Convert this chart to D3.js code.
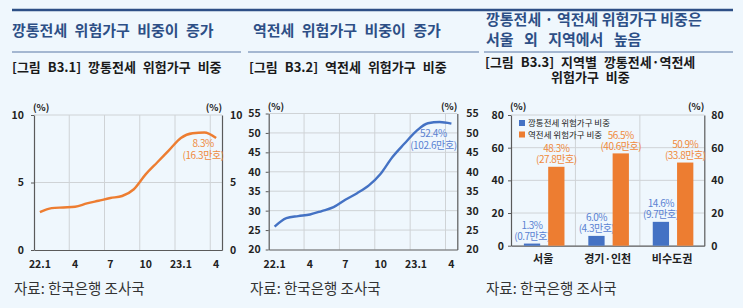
<!DOCTYPE html>
<html>
<head>
<meta charset="utf-8">
<script src="https://cdn.jsdelivr.net/npm/d3@7"></script>
<style>
  body { margin: 0; background: #eff7fd; }
  text { font-family: "Noto Sans CJK KR", sans-serif; }
</style>
</head>
<body>
<div class="chart"></div>
<script>
// data
let months = ["22.1", "22.2", "22.3", "22.4", "22.5", "22.6", "22.7", "22.8", "22.9", "22.10", "22.11", "22.12", "23.1", "23.2", "23.3", "23.4"];
let monthTicks = ["22.1", "22.4", "22.7", "22.10", "23.1", "23.4"];
let monthTickLabels = ["22.1", "4", "7", "10", "23.1", "4"];
let kangtongShare = [2.8, 3.1, 3.15, 3.2, 3.45, 3.65, 3.85, 4.0, 4.5, 5.6, 6.5, 7.4, 8.3, 8.65, 8.7, 8.3];
let reverseShare = [25.9, 28.1, 28.6, 29.0, 29.9, 30.9, 32.8, 34.5, 36.5, 39.5, 43.8, 47.2, 50.4, 52.5, 52.8, 52.4];

let regions = ["서울", "경기·인천", "비수도권"];
let seriesNames = ["깡통전세 위험가구 비중", "역전세 위험가구 비중"];
let kangtongByRegion = [1.3, 6.0, 14.6];
let reverseByRegion = [48.3, 56.5, 50.9];
let kangtongHouses = [0.7, 4.3, 9.7];
let reverseHouses = [27.8, 40.6, 33.8];

let ticks1 = [0, 5, 10];
let ticks2 = [20, 25, 30, 35, 40, 45, 50, 55];
let ticks3 = [0, 20, 40, 60, 80];

let titles = [["깡통전세 위험가구 비중이 증가"], ["역전세 위험가구 비중이 증가"], ["깡통전세 · 역전세 위험가구 비중은", "서울 외 지역에서 높음"]];
let figLabels = ["[그림 B3.1]", "[그림 B3.2]", "[그림 B3.3]"];
let figTitles = [["깡통전세 위험가구 비중"], ["역전세 위험가구 비중"], ["지역별 깡통전세·역전세", "위험가구 비중"]];
let source = "자료: 한국은행 조사국";

let svgWidth = 743;
let svgHeight = 308;

let orange = "#ed7d31";
let blue = "#4472c4";
let orangeText = "#f08a3c";
let blueText = "#5a82d2";
let titleBlue = "#2d4f86";
let axisGrey = "#5a5a5a";
let gridGrey = "#cfd3d6";
let narrow = "'Liberation Sans Narrow', 'Noto Sans CJK KR', sans-serif";

let svg = d3.select(".chart")
  .append("svg")
  .attr("width", svgWidth)
  .attr("height", svgHeight);

svg.append("rect")
  .attr("width", svgWidth)
  .attr("height", svgHeight)
  .attr("fill", "#eff7fd");

// headers
svg.append("line")
  .attr("x1", 12).attr("x2", 733).attr("y1", 10).attr("y2", 10)
  .attr("stroke", titleBlue).attr("stroke-width", 2.5);

let panelX = [12, 248, 484];
let ruleEnds = [241, 479, 733];
let titleX = [12, 253, 486];
let figX = [12, 249, 485];
// gap between words per title line
let titleSpacing = [[4], [4], [0, 7]];

panelX.forEach(function(px, i) {
  svg.append("line")
    .attr("x1", px).attr("x2", ruleEnds[i]).attr("y1", 52).attr("y2", 52)
    .attr("stroke", "#5a78a6").attr("stroke-width", 1.2);

  let t = svg.append("text")
    .attr("x", titleX[i])
    .attr("y", titles[i].length == 1 ? 36 : 25)
    .attr("fill", titleBlue)
    .style("font-size", "15px")
    .style("font-weight", "bold");
  titles[i].forEach(function(line, j) {
    t.append("tspan")
      .attr("x", titleX[i])
      .attr("dy", j == 0 ? 0 : 20)
      .style("word-spacing", titleSpacing[i][j] + "px")
      .text(line);
  });

  let f = svg.append("text")
    .attr("x", figX[i])
    .attr("y", figTitles[i].length == 1 ? 72 : 67)
    .attr("fill", "#1a1a1a")
    .style("font-family", narrow)
    .style("font-size", "13px")
    .style("font-weight", "bold")
    .style("word-spacing", "4px");
  f.append("tspan").text(figLabels[i] + " " + figTitles[i][0]);
  if (figTitles[i].length > 1) {
    f.append("tspan").attr("x", figX[i] + 66).attr("dy", 15).text(figTitles[i][1]);
  }

  svg.append("text")
    .attr("x", px + 2)
    .attr("y", 294)
    .attr("fill", "#333")
    .style("font-size", "14.5px")
    .text(source);
});

function styleAxis(g) {
  g.select(".domain").attr("stroke", axisGrey).attr("stroke-width", 1.2);
  g.selectAll(".tick line").attr("stroke", axisGrey);
  g.selectAll("text")
    .attr("fill", "#222")
    .style("font-family", narrow)
    .style("font-size", "10.5px")
    .style("font-weight", "bold");
}

function unitLabels(g, left, right, top) {
  g.append("text").attr("x", left - 1).attr("y", top - 4)
    .style("font-family", narrow).style("font-size", "9.5px").style("font-weight", "bold")
    .attr("fill", "#222").text("(%)");
  g.append("text").attr("x", right).attr("y", top - 4).attr("text-anchor", "end")
    .style("font-family", narrow).style("font-size", "9.5px").style("font-weight", "bold")
    .attr("fill", "#222").text("(%)");
}

function lineChart(cfg) {
  let chartGroup = svg.append("g");

  let x = d3.scaleBand().domain(months).range([cfg.left, cfg.right]);
  let y = d3.scaleLinear().domain(cfg.domain).range([cfg.bottom, cfg.top]);

  chartGroup.selectAll(".hgrid")
    .data(cfg.ticks.slice(1))
    .enter()
    .append("line")
    .attr("x1", cfg.left).attr("x2", cfg.right)
    .attr("y1", d => y(d)).attr("y2", d => y(d))
    .attr("stroke", gridGrey);

  chartGroup.selectAll(".vgrid")
    .data(monthTicks.slice(1))
    .enter()
    .append("line")
    .attr("x1", d => x(d)).attr("x2", d => x(d))
    .attr("y1", cfg.top).attr("y2", cfg.bottom)
    .attr("stroke", gridGrey);

  let leftAxis = d3.axisLeft(y).tickValues(cfg.ticks).tickSize(3).tickSizeOuter(0).tickPadding(cfg.padL);
  let rightAxis = d3.axisRight(y).tickValues(cfg.ticks).tickSize(0).tickSizeOuter(0).tickPadding(cfg.padR);
  let bottomAxis = d3.axisBottom(x)
    .tickValues(monthTicks)
    .tickFormat((d, i) => monthTickLabels[i])
    .tickSize(0).tickSizeOuter(0).tickPadding(11);

  chartGroup.append("g").attr("transform", `translate(${cfg.left}, 0)`).call(leftAxis).call(styleAxis);
  chartGroup.append("g").attr("transform", `translate(${cfg.right}, 0)`).call(rightAxis).call(styleAxis);
  chartGroup.append("g").attr("transform", `translate(0, ${cfg.bottom})`).call(bottomAxis).call(styleAxis);

  let line = d3.line()
    .x((d, i) => x(months[i]) + x.bandwidth() / 2)
    .y(d => y(d))
    .curve(d3.curveMonotoneX);

  chartGroup.append("path")
    .datum(cfg.values)
    .attr("d", line)
    .attr("fill", "none")
    .attr("stroke", cfg.color)
    .attr("stroke-width", 2.4);

  unitLabels(chartGroup, cfg.left, cfg.right, cfg.top);

  let last = cfg.values.length - 1;
  let lx = x(months[last]) + x.bandwidth() / 2 + cfg.noteDx;
  let ly = y(cfg.values[last]);
  let note = chartGroup.append("text")
    .attr("x", lx).attr("y", ly + cfg.noteDy)
    .attr("text-anchor", "middle")
    .attr("fill", cfg.textColor)
    .style("font-family", narrow)
    .style("font-size", "10px")
    .style("letter-spacing", "-0.4px");
  note.append("tspan").attr("x", lx).text(cfg.note[0]);
  note.append("tspan").attr("x", lx).attr("dy", 12).text(cfg.note[1]);
}

lineChart({
  left: 34, right: 222, top: 115, bottom: 250,
  domain: [0, 10], ticks: ticks1, values: kangtongShare,
  color: orange, textColor: orangeText, padL: 7, padR: 8,
  note: ["8.3%", "(16.3만호)"], noteDx: -13, noteDy: 9.5
});

lineChart({
  left: 268.7, right: 457.3, top: 113.5, bottom: 249.5,
  domain: [20, 55], ticks: ticks2, values: reverseShare,
  color: blue, textColor: blueText, padL: 5, padR: 9,
  note: ["52.4%", "(102.6만호)"], noteDx: -18, noteDy: 13.5
});

// regional bar chart
let barGroup = svg.append("g");
let bLeft = 511, bRight = 704.3, bTop = 115, bBottom = 245.7;

let x0 = d3.scaleBand().domain(regions).range([bLeft, bRight]);
let x1 = d3.scaleBand().domain(seriesNames)
  .range([x0.bandwidth() * 0.2, x0.bandwidth() * 0.83])
  .paddingInner(0.33);
let y3 = d3.scaleLinear().domain([0, 80]).range([bBottom, bTop]);

barGroup.selectAll(".hgrid")
  .data(ticks3.slice(1))
  .enter()
  .append("line")
  .attr("x1", bLeft).attr("x2", bRight)
  .attr("y1", d => y3(d)).attr("y2", d => y3(d))
  .attr("stroke", gridGrey);

barGroup.selectAll(".vgrid")
  .data(regions.slice(1))
  .enter()
  .append("line")
  .attr("x1", d => x0(d)).attr("x2", d => x0(d))
  .attr("y1", bTop).attr("y2", bBottom)
  .attr("stroke", gridGrey);

barGroup.append("g").attr("transform", `translate(${bLeft}, 0)`)
  .call(d3.axisLeft(y3).tickValues(ticks3).tickSize(3).tickSizeOuter(0).tickPadding(4))
  .call(styleAxis);
barGroup.append("g").attr("transform", `translate(${bRight}, 0)`)
  .call(d3.axisRight(y3).tickValues(ticks3).tickSize(0).tickSizeOuter(0).tickPadding(7))
  .call(styleAxis);
barGroup.append("g").attr("transform", `translate(0, ${bBottom})`)
  .call(d3.axisBottom(x0).tickSize(0).tickSizeOuter(0).tickPadding(10))
  .call(styleAxis)
  .selectAll("text")
  .style("font-family", "'Noto Sans CJK KR', sans-serif")
  .style("font-size", "11px");

let barSeries = [
  { name: seriesNames[0], values: kangtongByRegion, houses: kangtongHouses, color: blue, text: blueText },
  { name: seriesNames[1], values: reverseByRegion, houses: reverseHouses, color: orange, text: orangeText }
];

barSeries.forEach(function(s) {
  barGroup.selectAll(null)
    .data(regions)
    .enter()
    .append("rect")
    .attr("x", d => x0(d) + x1(s.name))
    .attr("y", (d, i) => y3(s.values[i]))
    .attr("width", x1.bandwidth())
    .attr("height", (d, i) => bBottom - y3(s.values[i]))
    .attr("fill", s.color);

  let labels = barGroup.selectAll(null)
    .data(regions)
    .enter()
    .append("text")
    .attr("text-anchor", "middle")
    .attr("fill", s.text)
    .style("font-family", narrow)
    .style("font-size", "10px")
    .style("letter-spacing", "-0.5px");
  labels.append("tspan")
    .attr("x", d => x0(d) + x1(s.name) + x1.bandwidth() / 2)
    .attr("y", (d, i) => y3(s.values[i]) - 14.5)
    .text((d, i) => s.values[i].toFixed(1) + "%");
  labels.append("tspan")
    .attr("x", d => x0(d) + x1(s.name) + x1.bandwidth() / 2)
    .attr("y", (d, i) => y3(s.values[i]) - 3.5)
    .text((d, i) => "(" + s.houses[i].toFixed(1) + "만호)");
});

unitLabels(barGroup, bLeft, bRight, bTop - 1);

// legend
let legend = barGroup.selectAll(".legend")
  .data(barSeries)
  .enter()
  .append("g")
  .attr("transform", (d, i) => `translate(519, ${123 + i * 11.5})`);
legend.append("rect")
  .attr("x", 0).attr("y", -3).attr("width", 6).attr("height", 6)
  .attr("fill", d => d.color);
legend.append("text")
  .attr("x", 9).attr("y", 3.2)
  .attr("fill", "#222")
  .style("font-size", "8.5px")
  .text(d => d.name);
</script>
</body>
</html>
